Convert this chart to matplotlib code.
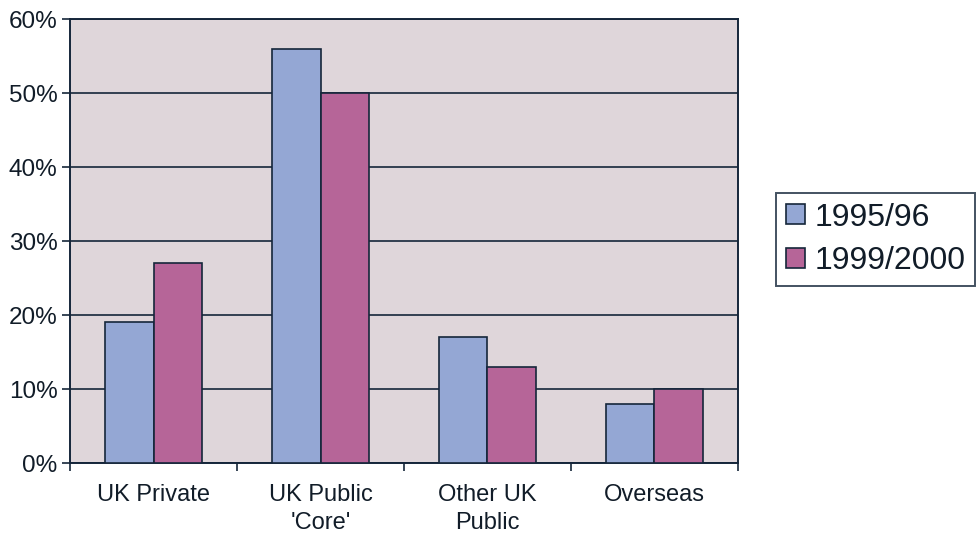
import matplotlib
matplotlib.use("Agg")
import matplotlib.pyplot as plt
import numpy as np

categories = ["UK Private", "UK Public\n'Core'", "Other UK\nPublic", "Overseas"]
series_names = ["1995/96", "1999/2000"]
values_1995 = [19, 56, 17, 8]
values_1999 = [27, 50, 13, 10]
y_ticks = [0, 10, 20, 30, 40, 50, 60]

plt.rcParams['font.family'] = ['Liberation Sans', 'DejaVu Sans']

edge = "#15263a"
text_color = "#111c28"
colors = ["#94a7d4", "#b66598"]

fig = plt.figure(figsize=(9.79, 5.34), dpi=100)
ax = fig.add_axes([70/979, 1 - 463/534, (738 - 70)/979, (463 - 19)/534])
ax.set_facecolor("#dfd6da")

x = np.arange(len(categories))
w = 0.29
ax.bar(x - w/2, values_1995, w, color=colors[0], edgecolor=edge, linewidth=1.2,
       label=series_names[0], zorder=3)
ax.bar(x + w/2, values_1999, w, color=colors[1], edgecolor=edge, linewidth=1.2,
       label=series_names[1], zorder=3)

ax.set_xlim(-0.5, len(categories) - 0.5)
ax.set_ylim(0, 60)
ax.set_yticks(y_ticks)
ax.set_yticklabels([f"{t}%" for t in y_ticks], fontsize=17.5, color=text_color)
ax.yaxis.grid(True, color=edge, linewidth=1.2, zorder=1)
ax.set_axisbelow(True)

# category labels centred under groups, ticks at group boundaries
ax.set_xticks(x)
ax.set_xticklabels(categories, fontsize=17, color=text_color, linespacing=1.38)
ax.tick_params(axis="x", length=0, pad=15)
ax.set_xticks(np.arange(len(categories) + 1) - 0.5, minor=True)
ax.tick_params(axis="x", which="minor", length=6, width=1.2, color=edge, direction="out")
ax.tick_params(axis="y", length=6, width=1.2, color=edge, direction="out", pad=3)

for s in ax.spines.values():
    s.set_color(edge)
    s.set_linewidth(1.4)

leg = fig.legend(loc="upper left", bbox_to_anchor=(776/979, 1 - 193/534),
                 fontsize=23, frameon=True, fancybox=False, edgecolor=edge,
                 handlelength=0.6, handleheight=0.6, handletextpad=0.3,
                 labelspacing=0.42, borderpad=0.3, borderaxespad=0)
leg.get_frame().set_linewidth(1.4)
for t in leg.get_texts():
    t.set_color(text_color)

fig.savefig("out.png", dpi=100, facecolor="white")
